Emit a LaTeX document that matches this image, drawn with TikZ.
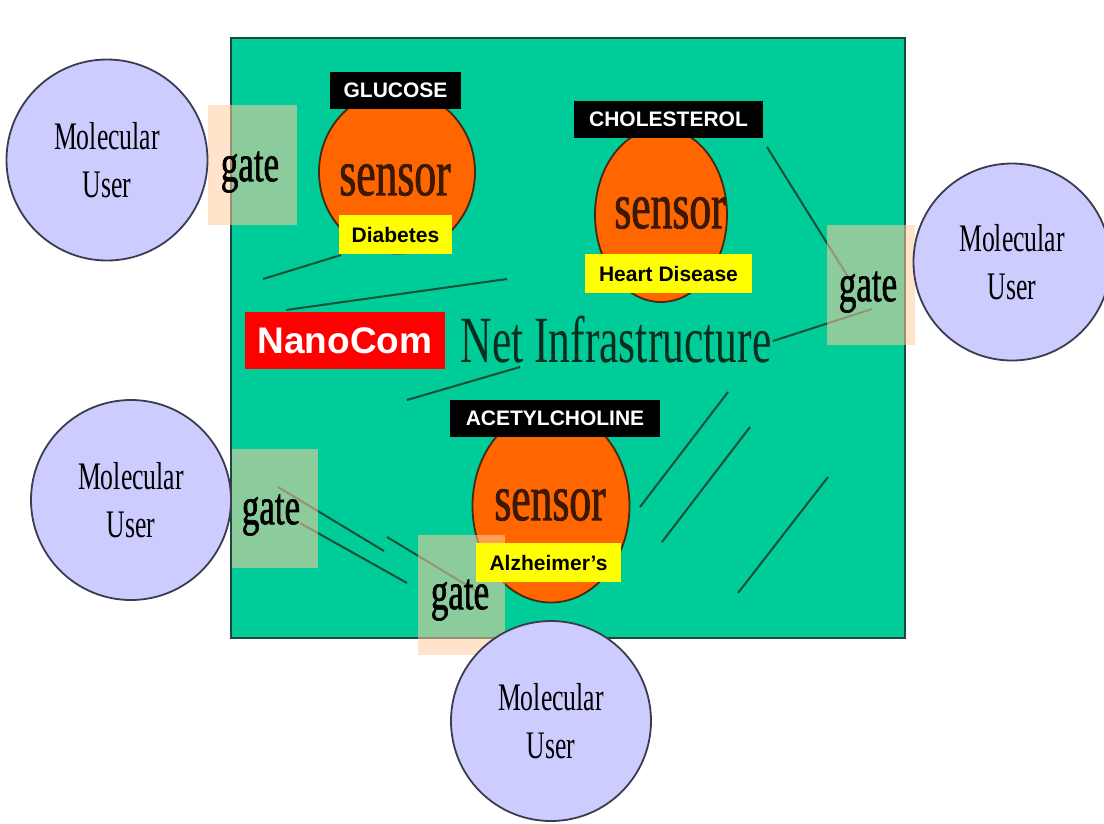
\documentclass[tikz,border=0pt]{standalone}
\usepackage{fontspec}
\setmainfont{Liberation Serif}
\newfontfamily\condserif[FakeStretch=0.66]{Liberation Serif}
\newfontfamily\condserifheavy[FakeStretch=0.66,FakeBold=1.2]{Liberation Serif}
\newfontfamily\labsans{Liberation Sans}
\usetikzlibrary{shapes.geometric}
\definecolor{netgreen}{RGB}{0,204,153}
\definecolor{netborder}{RGB}{30,70,60}
\definecolor{sensorfill}{RGB}{255,102,0}
\definecolor{sensorborder}{RGB}{70,40,20}
\definecolor{userfill}{RGB}{204,204,255}
\definecolor{userborder}{RGB}{60,60,80}
\definecolor{gatefill}{RGB}{255,204,160}
\definecolor{wire}{RGB}{20,80,55}
\definecolor{sensortext}{RGB}{60,25,5}
\definecolor{nettext}{RGB}{10,45,30}
\definecolor{labyellow}{RGB}{255,255,0}
\definecolor{labred}{RGB}{255,0,0}
\tikzset{
  netbox/.style={fill=netgreen, draw=netborder, line width=2.5pt},
  userbox/.style={circle, fill=userfill, draw=userborder, line width=1.8pt,
     minimum size=#1, inner sep=0pt, align=center, text=black,
     font=\condserif\fontsize{39}{48}\selectfont},
  sensorbox/.style={ellipse, fill=sensorfill, draw=sensorborder, line width=1.8pt, inner sep=0pt},
  sensorword/.style={text=sensortext, font=\condserifheavy\fontsize{66}{70}\selectfont, inner sep=0pt},
  gatebox/.style={fill=gatefill, fill opacity=0.55, draw=none, inner sep=0pt},
  gateword/.style={text=black, font=\condserifheavy\fontsize{53}{56}\selectfont, inner sep=0pt},
  wireline/.style={draw=wire, line width=2pt},
  blacklab/.style={fill=black, text=white, font=\labsans\bfseries\fontsize{21}{24}\selectfont,
     inner xsep=0pt, inner ysep=0pt, minimum height=37pt},
  yellowlab/.style={fill=labyellow, text=black, font=\labsans\bfseries\fontsize{21}{24}\selectfont,
     inner xsep=0pt, inner ysep=0pt, minimum height=39pt},
}
\begin{document}
\begin{tikzpicture}[x=1pt,y=-1pt]
\path[use as bounding box, fill=white] (0,0) rectangle (1104,823);

% network area
\node[netbox, minimum width=674pt, minimum height=600pt, inner sep=0pt] (net) at (568,338) {};

% decorative wires
\coordinate (w1a) at (263,279); \coordinate (w1b) at (341,255);
\coordinate (w2a) at (286,310); \coordinate (w2b) at (507,279);
\coordinate (w3a) at (407,400); \coordinate (w3b) at (520,367);
\coordinate (w4a) at (767,147); \coordinate (w4b) at (850,280);
\coordinate (w5a) at (773,341); \coordinate (w5b) at (872,309);
\coordinate (w6a) at (278,487); \coordinate (w6b) at (384,551);
\coordinate (w7a) at (300,523); \coordinate (w7b) at (407,583);
\coordinate (w8a) at (387,537); \coordinate (w8b) at (488,598);
\coordinate (w9a) at (640,507); \coordinate (w9b) at (728,392);
\coordinate (w10a) at (662,542); \coordinate (w10b) at (750,427);
\coordinate (w11a) at (738,593); \coordinate (w11b) at (828,477);
\foreach \p in {w1,w2,w3,w4,w5,w6,w7,w8,w9,w10,w11}
  \draw[wireline] (\p a) -- (\p b);

% sensors
\node[sensorbox, minimum width=156pt, minimum height=163pt] (s1) at (397,172) {};
\node[sensorbox, minimum width=132pt, minimum height=174pt] (s2) at (661,215) {};
\node[sensorbox, minimum width=157pt, minimum height=193pt] (s3) at (551,506) {};
\node[sensorword] (s1t) at (395,180) {sensor};
\node[sensorword] (s2t) at (670,213) {sensor};
\node[sensorword] (s3t) at (550,505) {sensor};

% net label
\node[text=nettext, font=\condserif\fontsize{66}{70}\selectfont, inner sep=0pt] (nettitle) at (616,340) {Net Infrastructure};

% gates
\node[gatebox, minimum width=89pt, minimum height=120pt] (g1) at (252.5,165) {};
\node[gatebox, minimum width=88pt, minimum height=120pt] (g2) at (871,285) {};
\node[gatebox, minimum width=86pt, minimum height=119pt] (g3) at (275,508.5) {};
\node[gatebox, minimum width=87pt, minimum height=120pt] (g4) at (461.5,595) {};
\node[gateword] (g1t) at (250,172) {gate};
\node[gateword] (g2t) at (868,292) {gate};
\node[gateword] (g3t) at (271,515) {gate};
\node[gateword] (g4t) at (460,600) {gate};

% molecular users
\node[userbox=201pt] (u1) at (107,160) {Molecular\\User};
\node[userbox=197pt] (u2) at (1012,262) {Molecular\\User};
\node[userbox=200pt] (u3) at (131,500) {Molecular\\User};
\node[userbox=200pt] (u4) at (551,721) {Molecular\\User};

% labels
\node[blacklab, minimum width=131pt] (glu) at (395.5,90.5) {GLUCOSE};
\node[blacklab, minimum width=189pt] (cho) at (668.5,119.5) {CHOLESTEROL};
\node[blacklab, minimum width=210pt] (ace) at (555,418.5) {ACETYLCHOLINE};
\node[yellowlab, minimum width=113pt] (dia) at (395.5,234.5) {Diabetes};
\node[yellowlab, minimum width=167pt] (hea) at (668.5,273.5) {Heart Disease};
\node[yellowlab, minimum width=145pt] (alz) at (548.5,562.5) {Alzheimer’s};
\node[fill=labred, text=white, font=\labsans\bfseries\fontsize{37}{40}\selectfont,
      minimum width=200pt, minimum height=57pt, inner sep=0pt] (nano) at (345,340.5) {NanoCom};
\end{tikzpicture}
\end{document}
